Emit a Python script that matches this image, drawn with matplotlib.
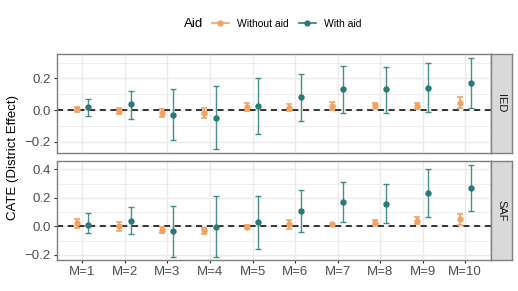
import numpy as np
import matplotlib
matplotlib.use("Agg")
from matplotlib import pyplot as plt
from matplotlib.lines import Line2D

plt.rcParams['font.family'] = ['Liberation Sans', 'DejaVu Sans']

labels = ["M=%d" % i for i in range(1, 11)]

# IED panel
ied_without = [0.005, -0.006, -0.020, -0.020, 0.020, 0.015, 0.025, 0.030, 0.028, 0.046]
ied_without_lo = [-0.012, -0.022, -0.045, -0.050, -0.005, -0.005, 0.002, 0.010, 0.008, 0.012]
ied_without_hi = [0.020, 0.015, 0.005, 0.015, 0.045, 0.040, 0.050, 0.047, 0.042, 0.080]
ied_with = [0.017, 0.036, -0.032, -0.048, 0.025, 0.080, 0.130, 0.130, 0.141, 0.172]
ied_with_lo = [-0.036, -0.055, -0.190, -0.248, -0.153, -0.067, -0.017, -0.017, -0.011, 0.015]
ied_with_hi = [0.070, 0.122, 0.130, 0.151, 0.204, 0.227, 0.278, 0.273, 0.295, 0.330]

# SAF panel
saf_without = [0.023, 0.000, -0.023, -0.028, -0.005, 0.014, 0.014, 0.026, 0.037, 0.049]
saf_without_lo = [-0.012, -0.033, -0.044, -0.051, -0.020, -0.016, 0.009, 0.006, 0.014, 0.012]
saf_without_hi = [0.054, 0.030, -0.005, -0.009, 0.010, 0.047, 0.019, 0.047, 0.065, 0.089]
saf_with = [0.007, 0.037, -0.035, -0.005, 0.030, 0.105, 0.171, 0.159, 0.234, 0.269]
saf_with_lo = [-0.044, -0.056, -0.215, -0.215, -0.157, -0.040, 0.030, 0.023, 0.065, 0.107]
saf_with_hi = [0.096, 0.135, 0.140, 0.210, 0.213, 0.253, 0.311, 0.295, 0.400, 0.428]

ORANGE = "#F4A261"
TEAL = "#2A7A78"
GRID = "#EBEBEB"

fig = plt.figure(figsize=(5.18, 2.91), dpi=100)
ax_top = fig.add_axes([0.110, 0.474, 0.837, 0.340])
ax_bot = fig.add_axes([0.110, 0.1065, 0.837, 0.340])

x = np.arange(1, 11)
dodge = 0.13


def draw_panel(ax, yw, ylo, yhi, yw2, ylo2, yhi2, ylim, yticks, minors, strip):
    ax.set_xlim(0.4, 10.6)
    ax.set_ylim(*ylim)
    ax.set_axisbelow(True)
    for xv in x:
        ax.axvline(xv, color=GRID, lw=1.0, zorder=0)
    for yv in yticks:
        ax.axhline(yv, color=GRID, lw=1.0, zorder=0)
    for yv in minors:
        ax.axhline(yv, color=GRID, lw=0.6, zorder=0)
    ax.axhline(0, color="black", lw=1.1, ls=(0, (4, 3)), zorder=1)

    for vals, lo, hi, off, col, lw in [(yw, ylo, yhi, -dodge, ORANGE, 1.4),
                                       (yw2, ylo2, yhi2, dodge, TEAL, 1.0)]:
        v = np.array(vals)
        err = [v - np.array(lo), np.array(hi) - v]
        ax.errorbar(x + off, v, yerr=err, fmt="none", ecolor=col, elinewidth=lw,
                    capsize=2.2, capthick=lw, alpha=0.85, zorder=2)
        ax.plot(x + off, v, "o", color=col, ms=4.6, mew=0, zorder=3)

    ax.set_yticks(yticks)
    ax.set_yticklabels(["%.1f" % t if t >= 0 else "\u2212%.1f" % -t for t in yticks])
    ax.set_xticks(x)
    ax.tick_params(axis="both", colors="#333333", labelcolor="#4D4D4D",
                   labelsize=9.5, length=2.5, width=0.8, pad=2)
    for s in ax.spines.values():
        s.set_color("#7F7F7F")
        s.set_linewidth(1.0)

    # facet strip
    pos = ax.get_position()
    sax = fig.add_axes([pos.x1 + 0.001, pos.y0, 0.040, pos.height])
    sax.set_facecolor("#D9D9D9")
    sax.set_xticks([])
    sax.set_yticks([])
    for s in sax.spines.values():
        s.set_color("#7F7F7F")
        s.set_linewidth(1.0)
    sax.text(0.5, 0.5, strip, rotation=-90, ha="center", va="center",
             fontsize=8, color="#1A1A1A", transform=sax.transAxes)


draw_panel(ax_top, ied_without, ied_without_lo, ied_without_hi,
           ied_with, ied_with_lo, ied_with_hi,
           (-0.271, 0.353), [-0.2, 0.0, 0.2], [-0.1, 0.1, 0.3], "IED")
draw_panel(ax_bot, saf_without, saf_without_lo, saf_without_hi,
           saf_with, saf_with_lo, saf_with_hi,
           (-0.237, 0.458), [-0.2, 0.0, 0.2, 0.4], [-0.1, 0.1, 0.3], "SAF")

ax_top.tick_params(axis="x", labelbottom=False, length=0)
ax_bot.set_xticklabels(labels)

fig.text(0.025, 0.46, "CATE (District Effect)", rotation=90, ha="center",
         va="center", fontsize=9.5, color="black")

handles = [Line2D([0], [0], color=ORANGE, marker="o", ms=4.5, lw=1.2, mew=0),
           Line2D([0], [0], color=TEAL, marker="o", ms=4.5, lw=1.2, mew=0)]
fig.legend(handles, ["Without aid", "With aid"], loc="center left",
           bbox_to_anchor=(0.409, 0.918), ncol=2, frameon=False,
           fontsize=7.5, handlelength=1.6, handletextpad=0.8,
           columnspacing=1.0, borderpad=0, borderaxespad=0)
fig.text(0.373, 0.918, "Aid", ha="center", va="center", fontsize=9.5)

fig.savefig("out.png", dpi=100)
